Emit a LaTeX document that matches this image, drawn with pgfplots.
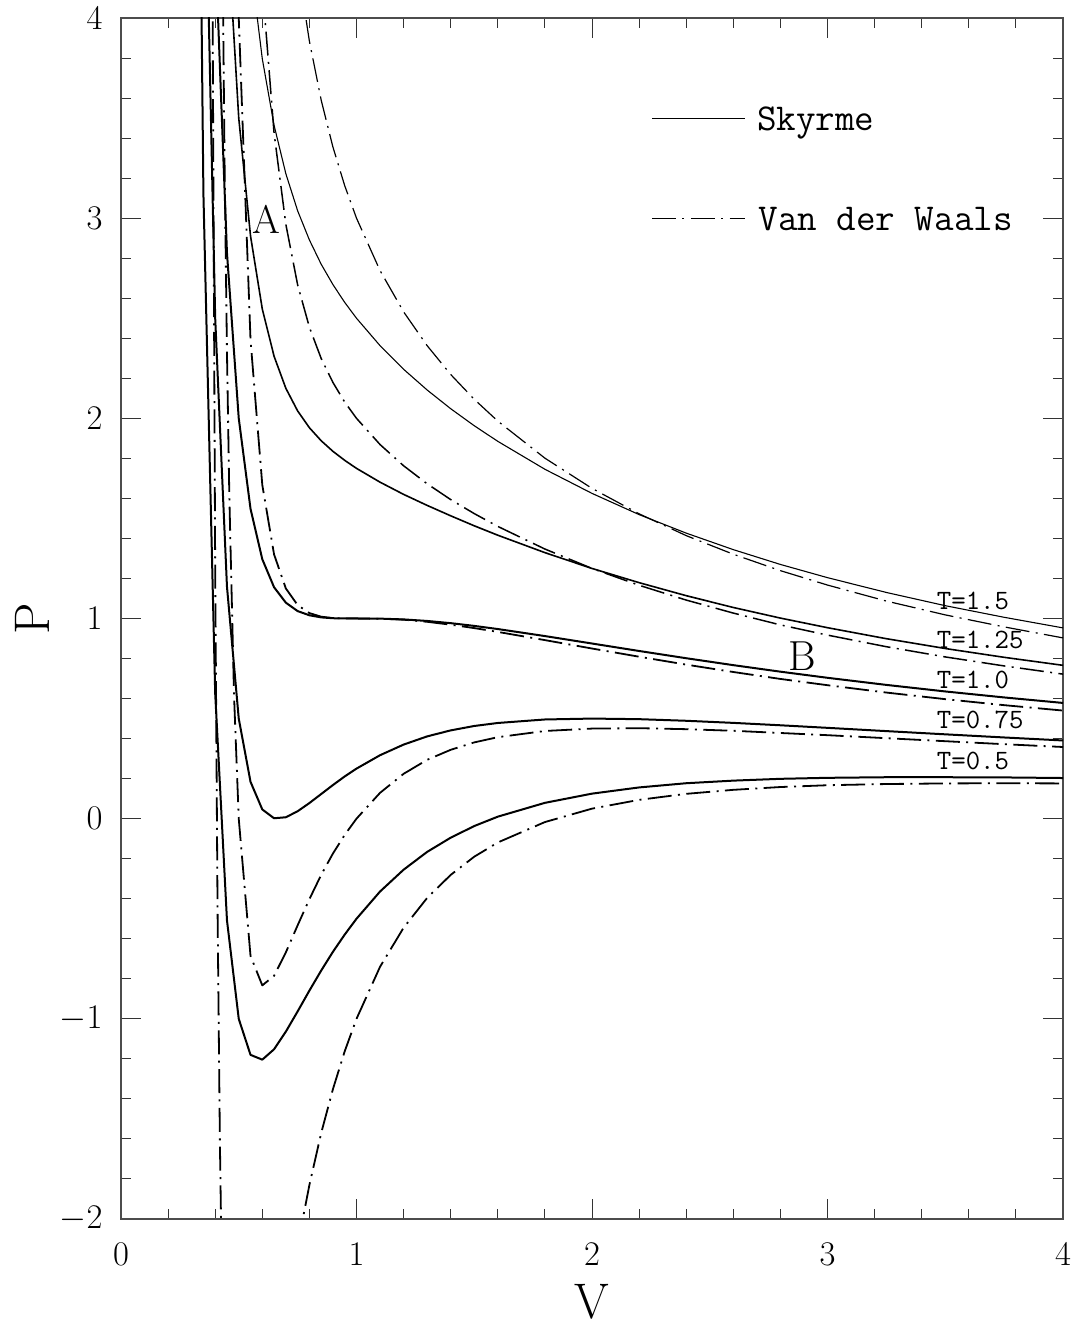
\documentclass[border=0pt]{standalone}
\usepackage{pgfplots}
\pgfplotsset{compat=1.18}
\tikzset{dd/.style={dash pattern=on 12pt off 3.2pt on 1pt off 3.2pt}}
\begin{document}
\begin{tikzpicture}
\begin{axis}[name=ax, scale only axis, width=471pt, height=600.5pt,
  xmin=0, xmax=4, ymin=-2, ymax=4,
  xtick={0,1,2,3,4}, ytick={-2,-1,0,1,2,3,4},
  minor x tick num=4, minor y tick num=4,
  tick align=inside, tick pos=both,
  major tick length=10pt, minor tick length=5pt,
  axis line style={black!70,line width=0.6pt},
  every tick/.style={black!80,line width=0.5pt},
  tick label style={font=\fontsize{17}{17}\selectfont},
  xticklabel style={anchor=north,inner sep=0pt,yshift=-12pt},
  yticklabel style={anchor=east,inner sep=0pt,xshift=-9pt},
  xlabel={V}, ylabel={P},
  label style={font=\fontsize{25}{25}\selectfont},
  xlabel style={at={(axis description cs:0.5,-0.0691)},anchor=center},
  ylabel style={at={(axis description cs:-0.0945,0.5)},anchor=center},
  every axis plot/.append style={mark=none, line join=round, black}]

% Skyrme
\addplot[line width=1pt] coordinates {(0.30,8.70)(0.35,3.12)(0.40,0.625)(0.45,-0.508)(0.50,-1.0)(0.55,-1.180)(0.60,-1.204)(0.65,-1.152)(0.70,-1.064)(0.75,-0.963)(0.80,-0.859)(0.85,-0.759)(0.90,-0.665)(0.95,-0.579)(1.0,-0.5)(1.1,-0.364)(1.2,-0.255)(1.3,-0.166)(1.4,-0.095)(1.5,-0.037)(1.6,0.010)(1.8,0.079)(2.0,0.125)(2.2,0.156)(2.4,0.177)(2.6,0.190)(2.8,0.199)(3.0,0.204)(3.25,0.207)(3.5,0.207)(3.75,0.206)(4.0,0.203)};
\addplot[line width=1pt] coordinates {(0.30,11.20)(0.35,5.26)(0.40,2.5)(0.45,1.159)(0.50,0.5)(0.55,0.184)(0.60,0.046)(0.65,0.002)(0.70,0.007)(0.75,0.037)(0.80,0.078)(0.85,0.123)(0.90,0.168)(0.95,0.211)(1.0,0.25)(1.1,0.317)(1.2,0.370)(1.3,0.411)(1.4,0.441)(1.5,0.463)(1.6,0.478)(1.8,0.4955)(2.0,0.5)(2.2,0.497)(2.4,0.489)(2.6,0.4785)(2.8,0.4665)(3.0,0.4537)(3.25,0.4374)(3.5,0.4213)(3.75,0.4056)(4.0,0.3906)};
\addplot[line width=1pt] coordinates {(0.30,13.70)(0.35,7.41)(0.40,4.375)(0.45,2.826)(0.50,2.0)(0.55,1.548)(0.60,1.296)(0.65,1.156)(0.70,1.079)(0.75,1.037)(0.80,1.016)(0.85,1.0055)(0.90,1.0013)(0.95,1.0002)(1.0,1.0)(1.1,0.9993)(1.2,0.9954)(1.3,0.9877)(1.4,0.9767)(1.5,0.963)(1.6,0.9473)(1.8,0.9122)(2.0,0.875)(2.2,0.8377)(2.4,0.8015)(2.6,0.7669)(2.8,0.7343)(3.0,0.7037)(3.25,0.6682)(3.5,0.6355)(3.75,0.6056)(4.0,0.5781)};
\addplot[line width=0.8pt] coordinates {(0.35,9.548)(0.40,6.25)(0.45,4.492)(0.50,3.5)(0.55,2.911)(0.60,2.546)(0.65,2.310)(0.70,2.150)(0.75,2.037)(0.80,1.953)(0.85,1.888)(0.90,1.835)(0.95,1.790)(1.0,1.75)(1.1,1.681)(1.2,1.620)(1.3,1.565)(1.4,1.513)(1.5,1.463)(1.6,1.416)(1.8,1.329)(2.0,1.25)(2.2,1.179)(2.4,1.114)(2.6,1.055)(2.8,1.002)(3.0,0.954)(3.25,0.899)(3.5,0.850)(3.75,0.806)(4.0,0.766)};
\addplot[line width=0.55pt] coordinates {(0.45,6.159)(0.50,5.0)(0.55,4.275)(0.60,3.796)(0.65,3.464)(0.70,3.222)(0.75,3.037)(0.80,2.891)(0.85,2.770)(0.90,2.668)(0.95,2.579)(1.0,2.5)(1.1,2.363)(1.2,2.245)(1.3,2.1415)(1.4,2.048)(1.5,1.963)(1.6,1.885)(1.8,1.7455)(2.0,1.625)(2.2,1.519)(2.4,1.4265)(2.6,1.344)(2.8,1.270)(3.0,1.204)(3.25,1.130)(3.5,1.064)(3.75,1.006)(4.0,0.953)};

% Van der Waals
\addplot[dd, line width=0.9pt] coordinates {(0.37,14.45)(0.38,7.80)(0.39,3.80)(0.40,1.25)(0.41,-0.455)(0.42,-1.62)(0.43,-2.43)(0.45,-3.39)(0.50,-4.0)(0.55,-3.763)(0.60,-3.333)(0.65,-2.89)(0.70,-2.486)(0.75,-2.133)(0.80,-1.830)(0.85,-1.571)(0.90,-1.351)(0.95,-1.162)(1.0,-1.0)(1.1,-0.740)(1.2,-0.545)(1.3,-0.396)(1.4,-0.281)(1.5,-0.190)(1.6,-0.119)(1.8,-0.017)(2.0,0.05)(2.2,0.094)(2.4,0.124)(2.6,0.144)(2.8,0.158)(3.0,0.167)(3.25,0.173)(3.5,0.176)(3.75,0.177)(4.0,0.176)};
\addplot[dd, line width=0.9pt] coordinates {(0.40,11.25)(0.42,6.07)(0.43,4.465)(0.44,3.254)(0.45,2.328)(0.46,1.612)(0.48,0.615)(0.50,0)(0.55,-0.686)(0.60,-0.833)(0.65,-0.785)(0.70,-0.668)(0.75,-0.533)(0.80,-0.402)(0.85,-0.281)(0.90,-0.174)(0.95,-0.081)(1.0,0)(1.1,0.129)(1.2,0.224)(1.3,0.294)(1.4,0.344)(1.5,0.381)(1.6,0.407)(1.8,0.438)(2.0,0.45)(2.2,0.452)(2.4,0.447)(2.6,0.439)(2.8,0.428)(3.0,0.417)(3.25,0.402)(3.5,0.387)(3.75,0.372)(4.0,0.358)};
\addplot[dd, line width=0.9pt] coordinates {(0.42,13.76)(0.44,9.504)(0.46,6.875)(0.48,5.161)(0.50,4.0)(0.55,2.391)(0.60,1.667)(0.65,1.320)(0.70,1.150)(0.75,1.067)(0.80,1.027)(0.85,1.009)(0.90,1.002)(0.95,1.0002)(1.0,1.0)(1.1,0.999)(1.2,0.994)(1.3,0.9835)(1.4,0.969)(1.5,0.952)(1.6,0.933)(1.8,0.892)(2.0,0.85)(2.2,0.809)(2.4,0.7695)(2.6,0.7327)(2.8,0.698)(3.0,0.6667)(3.25,0.630)(3.5,0.597)(3.75,0.567)(4.0,0.540)};
\addplot[dd, line width=0.75pt] coordinates {(0.50,8.0)(0.55,5.468)(0.60,4.167)(0.65,3.425)(0.70,2.969)(0.75,2.667)(0.80,2.455)(0.85,2.299)(0.90,2.179)(0.95,2.081)(1.0,2.0)(1.1,1.869)(1.2,1.763)(1.3,1.673)(1.4,1.594)(1.5,1.524)(1.6,1.460)(1.8,1.347)(2.0,1.25)(2.2,1.166)(2.4,1.092)(2.6,1.027)(2.8,0.968)(3.0,0.917)(3.25,0.859)(3.5,0.808)(3.75,0.763)(4.0,0.722)};
\addplot[dd, line width=0.6pt] coordinates {(0.65,5.531)(0.70,4.787)(0.75,4.267)(0.80,3.884)(0.85,3.590)(0.90,3.355)(0.95,3.162)(1.0,3.0)(1.1,2.738)(1.2,2.532)(1.3,2.363)(1.4,2.219)(1.5,2.095)(1.6,1.986)(1.8,1.801)(2.0,1.65)(2.2,1.523)(2.4,1.414)(2.6,1.321)(2.8,1.239)(3.0,1.167)(3.25,1.087)(3.5,1.018)(3.75,0.958)(4.0,0.903)};

% legend
\draw[line width=0.6pt] (axis cs:2.255,3.497) -- (axis cs:2.65,3.497);
\draw[dd, line width=0.6pt] (axis cs:2.255,2.997) -- (axis cs:2.65,2.997);
\node[anchor=base west, inner sep=0pt, font=\ttfamily\fontsize{19}{19}\selectfont] at (axis cs:2.699,3.439) {Skyrme};
\node[anchor=base west, inner sep=0pt, font=\ttfamily\fontsize{19}{19}\selectfont] at (axis cs:2.705,2.939) {Van der Waals};

% curve labels
\node[anchor=base west, inner sep=0pt, font=\ttfamily\fontsize{14}{14}\selectfont] at (axis cs:3.463,1.047) {T=1.5};
\node[anchor=base west, inner sep=0pt, font=\ttfamily\fontsize{14}{14}\selectfont] at (axis cs:3.463,0.848) {T=1.25};
\node[anchor=base west, inner sep=0pt, font=\ttfamily\fontsize{14}{14}\selectfont] at (axis cs:3.463,0.648) {T=1.0};
\node[anchor=base west, inner sep=0pt, font=\ttfamily\fontsize{14}{14}\selectfont] at (axis cs:3.463,0.451) {T=0.75};
\node[anchor=base west, inner sep=0pt, font=\ttfamily\fontsize{14}{14}\selectfont] at (axis cs:3.463,0.248) {T=0.5};
\node[anchor=base, inner sep=0pt, font=\fontsize{20}{20}\selectfont] at (axis cs:0.619,2.921) {A};
\node[anchor=base, inner sep=0pt, font=\fontsize{21}{21}\selectfont] at (axis cs:2.894,0.739) {B};
\end{axis}
\pgfresetboundingbox
\path[use as bounding box] ([shift={(-60.5pt,-55.5pt)}]ax.south west) rectangle ([shift={(8.5pt,9pt)}]ax.north east);
\end{tikzpicture}
\end{document}
